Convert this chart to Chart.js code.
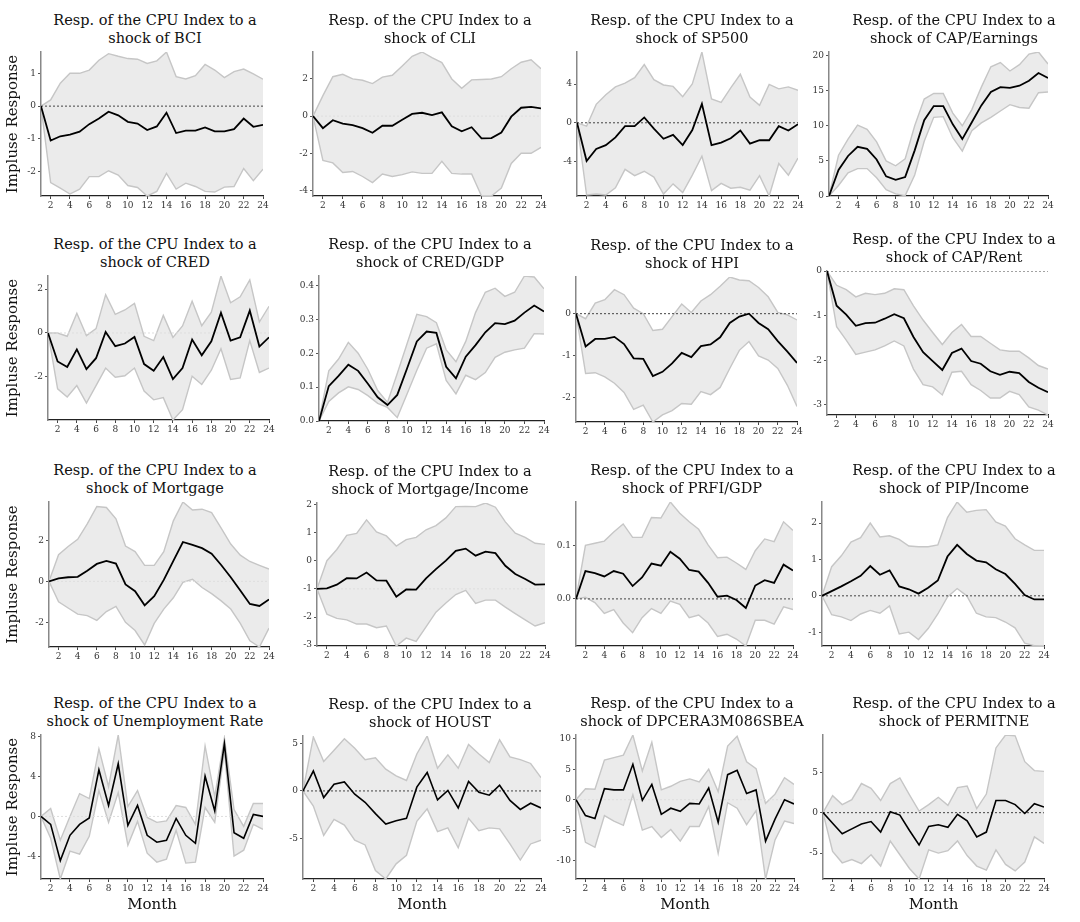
<!DOCTYPE html>
<html><head><meta charset="utf-8">
<script src="https://cdn.jsdelivr.net/npm/chart.js@4.4.1/dist/chart.umd.min.js"></script>
<style>
html,body{margin:0;padding:0;background:#fff;}
#page{position:relative;width:1080px;height:922px;overflow:hidden;background:#fff;}
.panel{position:absolute;}
.panel canvas{display:block;}
.ttl{position:absolute;width:320px;text-align:center;font:14.5px/18px 'DejaVu Serif',serif;color:#111;white-space:nowrap;}
</style></head><body><div id="page"></div>
<script>
// ---------- data ----------
const months = [1,2,3,4,5,6,7,8,9,10,11,12,13,14,15,16,17,18,19,20,21,22,23,24];
const xTicks = [2,4,6,8,10,12,14,16,18,20,22,24];

const shockNames = ['BCI','CLI','SP500','CAP/Earnings','CRED','CRED/GDP','HPI','CAP/Rent',
  'Mortgage','Mortgage/Income','PRFI/GDP','PIP/Income','Unemployment Rate','HOUST','DPCERA3M086SBEA','PERMITNE'];

const bciMean = [0,-1.05,-0.92,-0.87,-0.78,-0.55,-0.38,-0.17,-0.28,-0.48,-0.53,-0.73,-0.62,-0.2,-0.82,-0.75,-0.75,-0.65,-0.77,-0.77,-0.7,-0.38,-0.63,-0.57];
const bciHigh = [0,0.19,0.7,1.0,1.0,1.1,1.4,1.6,1.52,1.45,1.43,1.3,1.38,1.65,0.9,0.83,0.93,1.27,1.1,0.87,1.05,1.13,0.98,0.82];
const bciLow  = [0,-2.33,-2.5,-2.68,-2.53,-2.15,-2.15,-1.97,-2.1,-2.42,-2.48,-2.74,-2.6,-2.05,-2.53,-2.35,-2.45,-2.6,-2.62,-2.47,-2.45,-1.9,-2.27,-1.92];

const cliMean = [0,-0.65,-0.22,-0.4,-0.48,-0.65,-0.9,-0.52,-0.52,-0.2,0.12,0.18,0.05,0.2,-0.55,-0.82,-0.6,-1.2,-1.18,-0.88,-0.03,0.45,0.5,0.42];
const cliHigh = [0,1.1,2.12,2.25,2.0,1.93,1.75,2.1,2.2,2.7,3.22,3.45,3.15,2.88,2.0,1.5,1.95,1.97,2.0,2.12,2.55,2.9,3.03,2.55];
const cliLow  = [0,-2.38,-2.52,-3.03,-2.98,-3.25,-3.58,-3.12,-3.25,-3.15,-3.0,-3.08,-3.08,-2.43,-3.08,-3.12,-3.12,-4.3,-4.3,-3.87,-2.55,-2.0,-2.0,-1.68];

const spMean = [0,-3.95,-2.7,-2.3,-1.5,-0.35,-0.35,0.55,-0.6,-1.65,-1.25,-2.3,-0.75,1.95,-2.3,-2.05,-1.6,-0.8,-2.15,-1.8,-1.8,-0.35,-0.8,-0.15];
const spHigh = [0,-0.35,1.9,2.9,3.7,4.1,4.65,6.0,4.45,3.9,3.75,2.7,4.0,7.3,2.45,2.1,3.6,5.0,2.65,1.8,3.95,3.5,3.7,3.35];
const spLow  = [0,-7.45,-7.35,-7.45,-6.7,-4.8,-5.45,-5.0,-5.6,-7.35,-6.3,-7.2,-5.4,-3.45,-7.0,-6.25,-6.75,-6.65,-6.95,-5.45,-7.55,-4.2,-5.4,-3.65];

const capeMean = [0,3.7,5.7,7.0,6.7,5.2,2.8,2.3,2.7,6.5,10.8,12.8,12.8,10.2,8.1,10.5,12.9,14.8,15.5,15.4,15.7,16.4,17.5,16.8];
const capeHigh = [0,5.8,8.1,10.1,9.5,7.7,5.0,4.3,5.3,10.0,13.8,14.6,14.6,11.8,10.0,12.3,15.5,18.4,19.0,17.8,18.7,20.2,20.5,18.8];
const capeLow  = [0,1.5,3.3,3.9,3.9,2.6,0.9,0.3,0.05,3.0,7.8,11.2,11.3,8.3,6.4,9.3,10.4,11.2,12.1,13.0,12.6,12.5,14.7,14.8];

const credMean = [0,-1.3,-1.55,-0.75,-1.65,-1.15,0.05,-0.6,-0.48,-0.18,-1.42,-1.72,-1.1,-2.1,-1.6,-0.3,-1.02,-0.38,0.92,-0.35,-0.2,1.02,-0.62,-0.2];
const credHigh = [0,0.0,-0.15,0.9,-0.12,0.2,1.75,0.85,1.05,1.35,-0.15,-0.35,0.8,-0.2,0.32,1.45,0.33,0.95,2.6,1.38,1.65,2.42,0.5,1.22];
const credLow  = [0,-2.55,-2.92,-2.4,-3.2,-2.4,-1.6,-2.02,-1.95,-1.6,-2.65,-3.05,-2.95,-3.97,-3.5,-1.97,-2.35,-1.7,-0.72,-2.12,-2.05,-0.35,-1.8,-1.6];

const cgdpMean = [0,0.103,0.133,0.166,0.148,0.11,0.07,0.047,0.077,0.155,0.235,0.264,0.26,0.16,0.126,0.19,0.224,0.262,0.289,0.286,0.296,0.32,0.341,0.323];
const cgdpHigh = [0,0.148,0.183,0.232,0.2,0.152,0.09,0.055,0.14,0.228,0.315,0.308,0.29,0.21,0.175,0.235,0.32,0.38,0.392,0.368,0.38,0.428,0.425,0.39];
const cgdpLow  = [0,0.058,0.083,0.101,0.093,0.075,0.052,0.04,0.01,0.08,0.15,0.215,0.228,0.12,0.08,0.135,0.122,0.143,0.188,0.203,0.21,0.215,0.258,0.257];

const hpiMean = [0,-0.78,-0.6,-0.6,-0.55,-0.72,-1.06,-1.07,-1.48,-1.38,-1.18,-0.93,-1.03,-0.77,-0.73,-0.56,-0.22,-0.07,0.0,-0.22,-0.37,-0.65,-0.9,-1.17];
const hpiHigh = [0,-0.12,0.25,0.33,0.57,0.45,0.13,0.0,-0.4,-0.37,-0.07,0.23,0.03,0.3,0.45,0.65,0.87,0.8,0.78,0.62,0.4,0.03,-0.03,-0.15];
const hpiLow  = [0,-1.42,-1.4,-1.5,-1.65,-1.87,-2.27,-2.17,-2.57,-2.4,-2.3,-2.13,-2.15,-1.85,-1.92,-1.75,-1.3,-0.87,-0.66,-1.0,-1.1,-1.3,-1.7,-2.2];

const crentMean = [0,-0.78,-0.98,-1.23,-1.17,-1.16,-1.07,-0.97,-1.06,-1.48,-1.82,-2.02,-2.22,-1.84,-1.74,-2.02,-2.08,-2.25,-2.33,-2.26,-2.29,-2.49,-2.62,-2.72];
const crentHigh = [0,-0.32,-0.42,-0.58,-0.5,-0.53,-0.5,-0.4,-0.42,-0.78,-1.1,-1.38,-1.65,-1.38,-1.2,-1.47,-1.47,-1.62,-1.77,-1.8,-1.8,-1.95,-2.12,-2.2];
const crentLow  = [0,-1.25,-1.55,-1.87,-1.82,-1.77,-1.68,-1.57,-1.68,-2.2,-2.55,-2.6,-2.78,-2.27,-2.25,-2.55,-2.68,-2.85,-2.85,-2.7,-2.77,-3.05,-3.12,-3.23];

const mortMean = [0,0.15,0.2,0.22,0.52,0.85,1.0,0.87,-0.15,-0.48,-1.17,-0.72,0.07,1.0,1.92,1.78,1.62,1.35,0.8,0.2,-0.45,-1.1,-1.2,-0.88];
const mortHigh = [0,1.3,1.7,2.05,2.8,3.65,3.6,3.05,1.72,1.45,0.78,0.78,1.45,2.95,3.87,3.48,3.52,3.35,2.6,1.82,1.28,0.97,0.78,0.6];
const mortLow  = [0,-1.0,-1.3,-1.6,-1.67,-1.9,-1.47,-1.22,-2.0,-2.4,-3.1,-2.05,-1.35,-0.8,-0.05,0.1,-0.3,-0.6,-0.95,-1.35,-2.05,-2.9,-3.2,-2.28];

const minMean = [-1.0,-0.98,-0.85,-0.62,-0.63,-0.42,-0.7,-0.71,-1.28,-1.02,-1.03,-0.63,-0.3,0.0,0.35,0.43,0.18,0.32,0.27,-0.18,-0.47,-0.65,-0.85,-0.84];
const minHigh = [-1.0,0.0,0.4,0.9,0.97,1.45,1.02,0.88,0.52,0.75,0.83,1.1,1.25,1.52,1.92,1.93,1.92,2.05,1.9,1.38,0.98,0.83,0.62,0.58];
const minLow  = [-1.0,-1.9,-2.05,-2.1,-2.25,-2.25,-2.38,-2.32,-3.03,-2.75,-2.87,-2.35,-1.83,-1.5,-1.2,-1.05,-1.52,-1.4,-1.4,-1.65,-1.88,-2.1,-2.32,-2.2];

const prfiMean = [0,0.052,0.048,0.042,0.052,0.047,0.024,0.04,0.066,0.062,0.088,0.075,0.054,0.051,0.03,0.004,0.006,-0.002,-0.017,0.025,0.035,0.03,0.064,0.053];
const prfiHigh = [0,0.1,0.104,0.108,0.125,0.14,0.115,0.115,0.152,0.151,0.181,0.16,0.144,0.13,0.101,0.077,0.078,0.067,0.055,0.09,0.112,0.107,0.144,0.128];
const prfiLow  = [0,0.003,-0.007,-0.027,-0.02,-0.045,-0.063,-0.035,-0.018,-0.027,-0.004,-0.01,-0.035,-0.03,-0.045,-0.07,-0.066,-0.075,-0.088,-0.04,-0.04,-0.047,-0.015,-0.02];

const pipMean = [0,0.13,0.26,0.4,0.55,0.82,0.58,0.7,0.26,0.18,0.06,0.22,0.42,1.08,1.4,1.15,0.97,0.92,0.73,0.6,0.33,0.02,-0.1,-0.1];
const pipHigh = [0,0.8,1.1,1.48,1.6,2.0,1.62,1.65,1.55,1.37,1.35,1.35,1.4,2.15,2.58,2.3,2.35,2.37,2.03,1.92,1.57,1.4,1.25,1.25];
const pipLow  = [0,-0.52,-0.58,-0.68,-0.5,-0.4,-0.48,-0.28,-1.05,-1.0,-1.2,-0.9,-0.5,-0.03,0.2,0.0,-0.48,-0.58,-0.6,-0.72,-0.88,-1.3,-1.37,-1.38];

const unrMean = [0,-0.8,-4.45,-1.9,-0.8,-0.15,4.7,1.1,5.3,-0.9,1.1,-1.9,-2.6,-2.4,-0.2,-1.9,-2.7,4.05,0.55,7.3,-1.65,-2.2,0.2,0.0];
const unrHigh = [0,0.8,-2.4,0.0,2.3,1.8,6.8,3.0,8.2,1.0,2.6,-0.1,-0.6,-0.45,1.1,0.9,-0.8,7.1,2.0,7.9,0.7,-1.0,1.3,1.3];
const unrLow  = [0,-2.2,-6.3,-3.5,-3.8,-2.0,2.6,-0.6,2.4,-2.9,-0.5,-3.7,-4.6,-4.3,-1.4,-4.7,-4.6,0.9,-0.6,6.6,-4.0,-3.4,-0.8,-1.3];

const houstMean = [0,2.1,-0.7,0.7,0.95,-0.35,-1.2,-2.4,-3.5,-3.15,-2.9,0.4,1.95,-0.95,0.05,-1.8,1.0,-0.15,-0.45,0.6,-1.0,-1.95,-1.3,-1.8];
const houstHigh = [0,5.7,3.1,4.3,5.5,4.5,3.3,3.5,2.3,1.6,1.1,3.9,5.8,2.4,3.8,2.4,4.9,3.9,3.0,5.4,3.6,3.3,2.9,1.4];
const houstLow  = [0,-1.6,-4.7,-3.0,-3.6,-5.2,-5.7,-8.4,-9.3,-7.7,-6.8,-3.2,-1.9,-4.3,-3.9,-6.0,-2.9,-4.2,-3.9,-4.0,-5.6,-7.3,-5.6,-5.2];

const pceMean = [0,-2.6,-3.1,1.8,1.6,1.6,5.8,-0.1,2.5,-2.4,-1.4,-1.9,-0.6,-0.7,1.9,-3.7,4.1,4.8,1.0,1.6,-6.8,-3.2,0.0,-0.7];
const pceHigh = [0,1.8,1.7,6.5,6.9,7.3,10.6,4.7,9.4,1.6,2.2,3.0,3.4,2.9,5.0,1.3,8.8,10.4,6.2,5.1,-0.6,0.9,3.6,2.5];
const pceLow  = [0,-7.0,-7.8,-2.6,-3.5,-4.2,0.8,-5.0,-4.4,-6.2,-4.9,-6.8,-4.4,-4.4,-1.1,-8.8,-0.5,-1.4,-4.1,-1.8,-13.0,-6.6,-3.5,-3.9];

const permMean = [0,-1.3,-2.6,-2.0,-1.4,-1.1,-2.4,0.1,-0.3,-2.2,-4.0,-1.7,-1.5,-1.8,-0.2,-1.0,-3.0,-2.4,1.5,1.5,1.0,-0.1,1.1,0.7];
const permHigh = [0,2.1,1.0,1.6,3.6,3.0,1.5,3.6,4.3,2.2,0.2,1.0,1.9,0.9,3.1,3.3,0.5,2.3,8.0,9.6,9.5,6.3,5.2,5.1];
const permLow  = [0,-4.8,-6.2,-5.8,-6.3,-5.2,-6.6,-3.5,-5.2,-6.9,-8.2,-4.6,-5.0,-4.7,-3.5,-5.3,-6.6,-7.1,-4.6,-6.4,-7.2,-6.1,-3.0,-3.8];

const yTicks = [
  [-2,-1,0,1], [-4,-2,0,2], [-4,0,4], [0,5,10,15,20],
  [-2,0,2], [0,0.1,0.2,0.3,0.4], [-2,-1,0], [-3,-2,-1,0],
  [-2,0,2], [-3,-2,-1,0,1,2], [0,0.1], [-1,0,1,2],
  [-4,0,4,8], [-5,0,5], [-10,-5,0,5,10], [-5,0,5]
];
// reference (dotted) line level per panel, null = none
const refLevels = [0,0,0,null, 0,null,0,0, 0,-1,0,0, 0,0,0,0];
const refFaint  = [false,true,false,false, true,false,false,false, true,true,false,false, true,false,true,false];

const meanSeries = [bciMean,cliMean,spMean,capeMean,credMean,cgdpMean,hpiMean,crentMean,mortMean,minMean,prfiMean,pipMean,unrMean,houstMean,pceMean,permMean];
const highSeries = [bciHigh,cliHigh,spHigh,capeHigh,credHigh,cgdpHigh,hpiHigh,crentHigh,mortHigh,minHigh,prfiHigh,pipHigh,unrHigh,houstHigh,pceHigh,permHigh];
const lowSeries  = [bciLow,cliLow,spLow,capeLow,credLow,cgdpLow,hpiLow,crentLow,mortLow,minLow,prfiLow,pipLow,unrLow,houstLow,pceLow,permLow];

// ---------- layout (plot area boxes: left,right,top,bottom) ----------
const plotBoxes = [
  [41,263,52,196],[313,541,52,196],[577,798,52,196],[829,1048,52,196],
  [48,269,276,420],[319,544,276,421],[576,797,277,422],[827,1048,271,415],
  [49,269,502,647],[317,545,503,646],[576,793,502,646],[822,1044,502,646],
  [41,263,735,879],[303,541,736,879],[576,794,735,879],[823,1044,735,879]
];
const titleCenters = [155,430,692,954];
const lineWidths = [1.8,1.8,1.8,1.6];
const FONT = "'DejaVu Serif', serif";

const page = document.getElementById('page');

shockNames.forEach((name, i) => {
  const row = Math.floor(i / 4), col = i % 4;
  const [pl, pr, pt, pb] = plotBoxes[i];
  const isLeft = col === 0, isBottom = row === 3;
  const padTop = 8, padRight = 14;
  const yW = isLeft ? pl : 34;
  const xH = isBottom ? 39 : 18;
  const cLeft = pl - yW;
  const cTop = pt - padTop;
  const cW = (pr - cLeft) + padRight;
  const cH = padTop + (pb - pt) + xH;

  // title
  const t = document.createElement('div');
  t.className = 'ttl';
  t.style.left = (titleCenters[col] - 160) + 'px';
  t.style.top = (pt - 41) + 'px';
  t.innerHTML = 'Resp. of the CPU Index to a<br>shock of ' + name;
  page.appendChild(t);

  const div = document.createElement('div');
  div.className = 'panel';
  div.style.left = cLeft + 'px'; div.style.top = cTop + 'px';
  div.style.width = cW + 'px'; div.style.height = cH + 'px';
  const cv = document.createElement('canvas');
  div.appendChild(cv);
  page.appendChild(div);

  const mean = meanSeries[i], hi = highSeries[i], lo = lowSeries[i];
  const yMin = Math.min(...lo), yMax = Math.max(...hi);
  const ticks = yTicks[i];
  const dec = ticks.some(v => !Number.isInteger(v));

  const datasets = [
    {data: months.map((m,k)=>({x:m,y:mean[k]})), borderColor:'#000', borderWidth:lineWidths[row], pointRadius:0, tension:0, fill:false, order:0}
  ];
  if (refLevels[i] !== null) {
    datasets.push({data:[{x:1,y:refLevels[i]},{x:24,y:refLevels[i]}], borderColor: refFaint[i] ? '#dedede' : '#444',
      borderWidth:1, borderDash:[2,2], pointRadius:0, fill:false, order:1});
  }
  datasets.push({data: months.map((m,k)=>({x:m,y:hi[k]})), borderColor:'#c6c6c6', borderWidth:1.4, pointRadius:0, tension:0,
    backgroundColor:'#ebebeb', fill:'+1', order:2});
  datasets.push({data: months.map((m,k)=>({x:m,y:lo[k]})), borderColor:'#c6c6c6', borderWidth:1.4, pointRadius:0, tension:0,
    fill:false, order:3});

  new Chart(cv, {
    type:'line',
    data:{datasets},
    options:{
      responsive:true, maintainAspectRatio:false, animation:false, events:[],
      layout:{padding:{top:padTop,right:padRight,left:0,bottom:0}},
      plugins:{legend:{display:false}, tooltip:{enabled:false}, title:{display:false}, filler:{drawTime:'beforeDatasetsDraw'}},
      scales:{
        x:{type:'linear', min:1, max:24,
          afterBuildTicks:a=>{a.ticks = xTicks.map(v=>({value:v}));},
          afterFit:s=>{s.height = xH; s.paddingLeft = 0; s.paddingRight = 0;},
          grid:{display:true, drawOnChartArea:false, drawTicks:true, tickLength:3, color:'#444'},
          border:{display:true, color:'#222', width:1.3},
          ticks:{autoSkip:false, maxRotation:0, padding:1, color:'#333', font:{family:FONT, size:9}},
          title: isBottom ? {display:true, text:'Month', color:'#111', font:{family:FONT, size:15}, padding:{top:4,bottom:4}} : {display:false}
        },
        y:{type:'linear', min:yMin, max:yMax,
          afterBuildTicks:a=>{a.ticks = ticks.map(v=>({value:v}));},
          afterFit:s=>{s.width = yW; s.paddingTop = 0; s.paddingBottom = 0;},
          grid:{display:true, drawOnChartArea:false, drawTicks:true, tickLength:3, color:'#555'},
          border:{display:true, color:'#888', width:1.5},
          ticks:{autoSkip:false, padding:2, color:'#333', font:{family:FONT, size:9},
            callback:v=> dec ? Number(v).toFixed(1) : String(v)},
          title: isLeft ? {display:true, text:'Impluse Response', color:'#111', font:{family:FONT, size:15}, padding:{top:4,bottom:4}} : {display:false}
        }
      }
    }
  });
});
</script>
</body></html>
